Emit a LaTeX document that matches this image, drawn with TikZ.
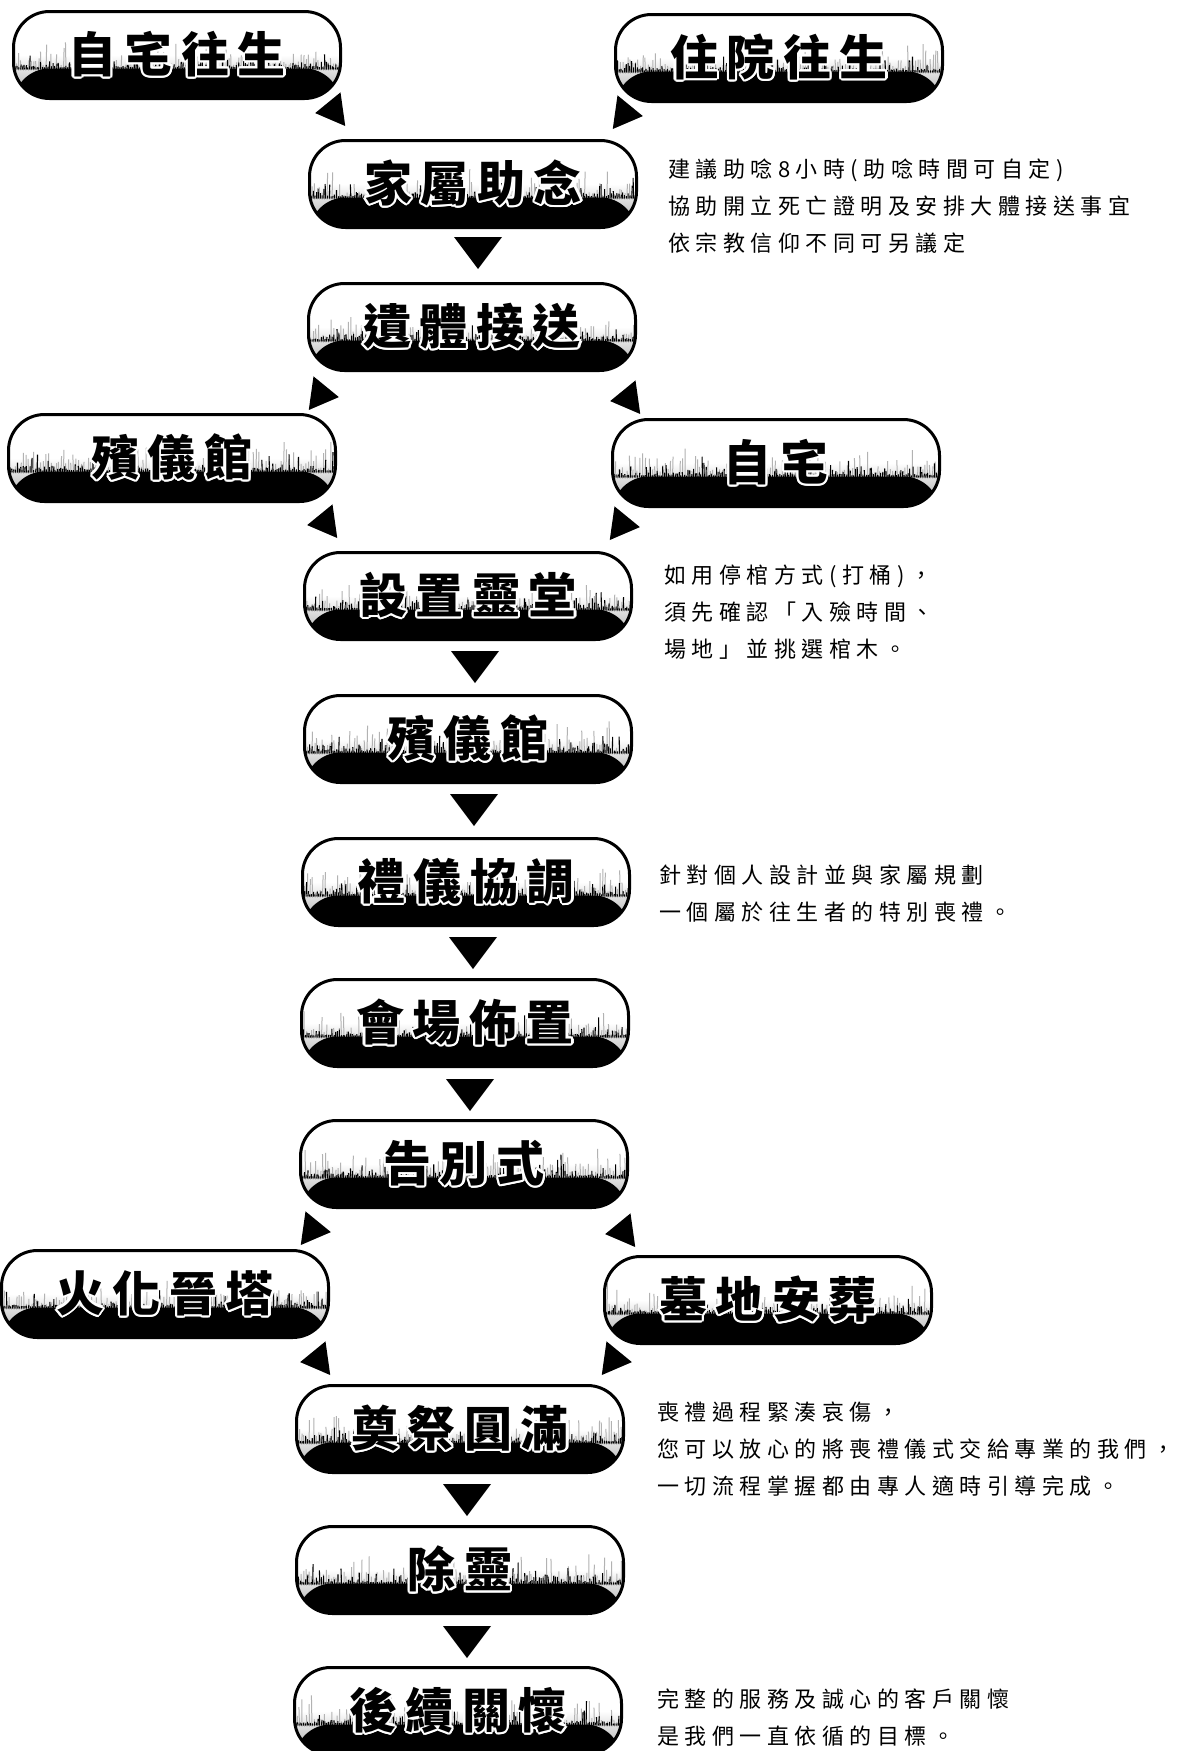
\documentclass[tikz,border=0pt]{standalone}
\usepackage{fontspec}
\usepackage{contour}
\newfontfamily\cjk{Noto Sans CJK TC}[LetterSpace=25]
\newfontfamily\cjkb{Noto Sans CJK TC}[LetterSpace=18]
\contourlength{2.2pt}
\pgfmathsetseed{7}
\newcommand{\boxlabel}[1]{\contour{white}{#1}}
\tikzset{
  box/.style={draw=black, line width=3pt, rounded corners=36pt,
    minimum width=327pt, minimum height=87pt, inner sep=0pt,
    top color=white, bottom color=gray!70, middle color=white,
    font=\cjkb\bfseries\fontsize{48pt}{48pt}\selectfont,
    path picture={
      \foreach \i in {0,2.5,...,335} {
        \pgfmathsetmacro\h{4+30*rnd*rnd}
        \draw[gray!60, line width=1pt] ([xshift=\i pt, yshift=28pt]path picture bounding box.south west) -- ++(1.5*rnd-0.75,-\h);
      }
      \fill[black] ([yshift=30pt]path picture bounding box.south west) rectangle (path picture bounding box.south east);
      \foreach \i in {0,1.8,...,335} {
        \pgfmathsetmacro\h{2+24*rnd*rnd*rnd}
        \draw[line width=1.1pt] ([xshift=\i pt, yshift=29pt]path picture bounding box.south west) -- ++(1.2*rnd-0.6,-\h);
      }
    }},
  note/.style={anchor=west, align=left, inner sep=0pt,
    font=\cjk\fontsize{22pt}{37pt}\selectfont},
  rtri/.pic={\fill (-13,-17) -- (15,0) -- (-13,17) -- cycle;},
  dtri/.pic={\fill (-24,-16) -- (24,-16) -- (0,16) -- cycle;}
}
\begin{document}
\begin{tikzpicture}[x=1pt,y=-1pt]
\useasboundingbox (0,0) rectangle (1189,1751);
\fill[white] (0,0) rectangle (1189,1751);

% boxes
\node[box] (b1)  at (177,55)   {\boxlabel{自宅往生}};
\node[box] (b2)  at (779,58)   {\boxlabel{住院往生}};
\node[box] (b3)  at (473,184)  {\boxlabel{家屬助念}};
\node[box] (b4)  at (472,327)  {\boxlabel{遺體接送}};
\node[box] (b5)  at (172,458)  {\boxlabel{殯儀館}};
\node[box] (b6)  at (776,463)  {\boxlabel{自宅}};
\node[box] (b7)  at (468,596)  {\boxlabel{設置靈堂}};
\node[box] (b8)  at (468,739)  {\boxlabel{殯儀館}};
\node[box] (b9)  at (466,882)  {\boxlabel{禮儀協調}};
\node[box] (b10) at (465,1023) {\boxlabel{會場佈置}};
\node[box] (b11) at (464,1164) {\boxlabel{告別式}};
\node[box] (b12) at (165,1294) {\boxlabel{火化晉塔}};
\node[box] (b13) at (768,1300) {\boxlabel{墓地安葬}};
\node[box] (b14) at (460,1429) {\boxlabel{奠祭圓滿}};
\node[box] (b15) at (460,1570) {\boxlabel{除靈}};
\node[box] (b16) at (458,1711) {\boxlabel{後續關懷}};

% side arrowheads
\pic[rotate=188] at (330,111)  {rtri};
\pic[rotate=-8]  at (628,114)  {rtri};
\pic[rotate=-8]  at (324,395)  {rtri};
\pic[rotate=188] at (625,399)  {rtri};
\pic[rotate=188] at (322,523)  {rtri};
\pic[rotate=-8]  at (625,525)  {rtri};
\pic[rotate=-8]  at (316,1230) {rtri};
\pic[rotate=188] at (620,1232) {rtri};
\pic[rotate=188] at (315,1360) {rtri};
\pic[rotate=-8]  at (617,1360) {rtri};

% down arrowheads
\pic at (478,253)  {dtri};
\pic at (475,667)  {dtri};
\pic at (474,810)  {dtri};
\pic at (473,953)  {dtri};
\pic at (470,1095) {dtri};
\pic at (467,1500) {dtri};
\pic at (467,1642) {dtri};

% notes
\node[note] (n1) at (668,206) {建議助唸8小時(助唸時間可自定)\\協助開立死亡證明及安排大體接送事宜\\依宗教信仰不同可另議定};
\node[note] (n2) at (664,612) {如用停棺方式(打桶)，\\須先確認「入殮時間、\\場地」並挑選棺木。};
\node[note] (n3) at (659,894) {針對個人設計並與家屬規劃\\一個屬於往生者的特別喪禮。};
\node[note] (n4) at (657,1449) {喪禮過程緊湊哀傷，\\您可以放心的將喪禮儀式交給專業的我們，\\一切流程掌握都由專人適時引導完成。};
\node[note] (n5) at (657,1718) {完整的服務及誠心的客戶關懷\\是我們一直依循的目標。};
\end{tikzpicture}
\end{document}
